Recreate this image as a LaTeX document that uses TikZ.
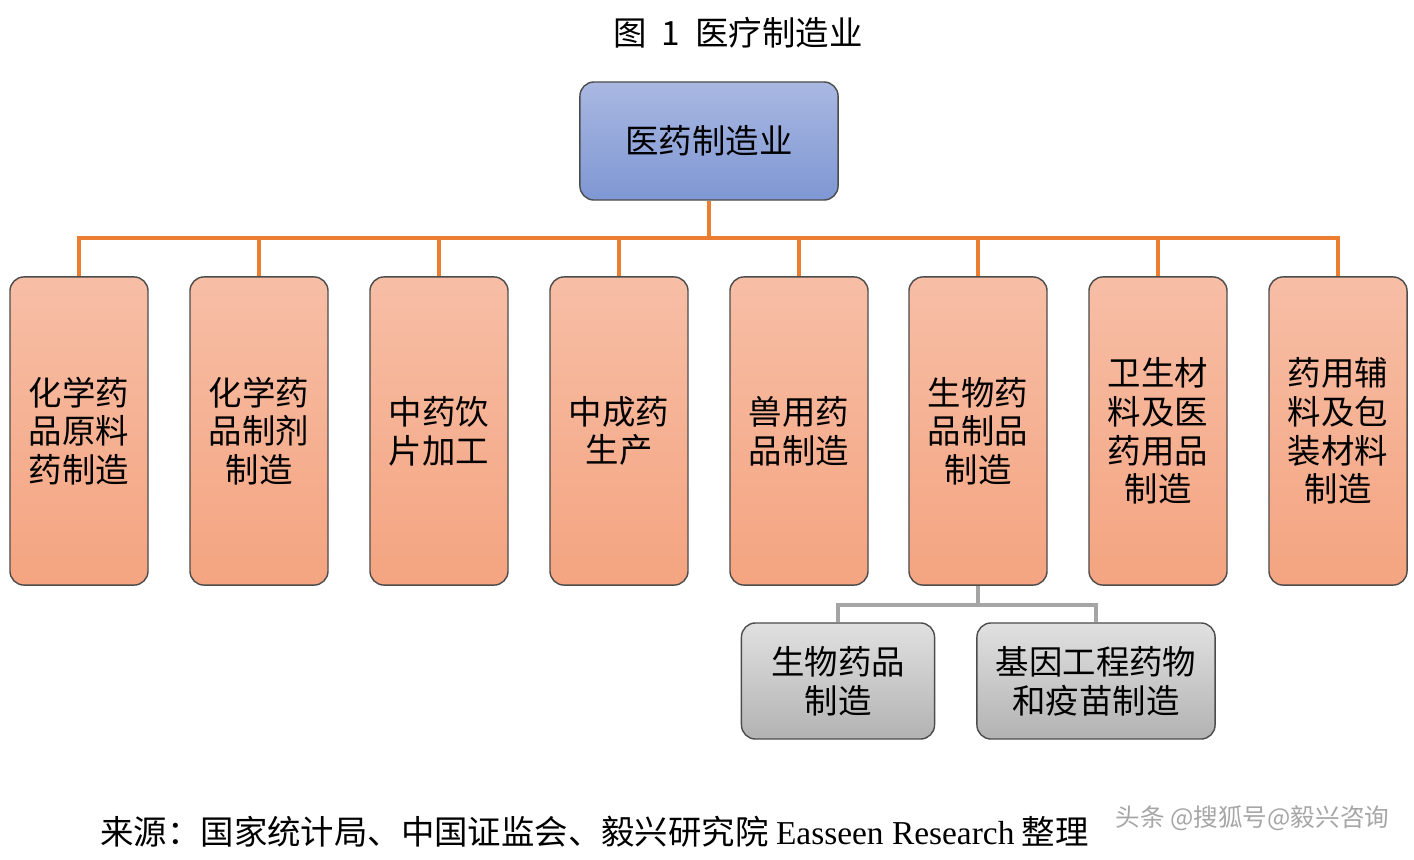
\documentclass[tikz,border=0pt]{standalone}
\usepackage{fontspec}
\setmainfont{Liberation Serif}
\newfontfamily\cjk{Noto Sans CJK SC}
\usetikzlibrary{positioning}
\definecolor{orangeline}{HTML}{ED7D31}
\definecolor{graylinec}{HTML}{A5A5A5}
\definecolor{rootTop}{HTML}{AAB8E2}
\definecolor{rootBot}{HTML}{7E97D3}
\definecolor{catTop}{HTML}{F7BEA6}
\definecolor{catBot}{HTML}{F4A480}
\begin{document}
\begin{tikzpicture}[
                    x=0.01cm, y=-0.01cm,
                    box/.style={draw=black!70, rounded corners=4pt, align=center,
                        font=\cjk\fontsize{9.5}{11}\selectfont},
                    cat/.style={box, minimum width=1.38cm, minimum height=3.08cm,
                        top color=catTop, bottom color=catBot},
                    sub/.style={box, minimum height=1.16cm,
                        top color=black!12, bottom color=black!30},
                    bus/.style={orangeline, line width=1.2pt}
                ]
                \useasboundingbox (0,0) rectangle (1414,860);
                \node[font=\cjk\fontsize{9.5}{11}\selectfont] (title) at (738,33) {图\ \ 1\ \ 医疗制造业};

                \node (root) [box, minimum width=2.58cm, minimum height=1.18cm,
                    top color=rootTop, bottom color=rootBot] at (709,141) {医药制造业};

                \node (c1) [cat] at (79,431) {化学药\\品原料\\药制造};
                \node (c2) [cat] at (259,431) {化学药\\品制剂\\制造};
                \node (c3) [cat] at (439,431) {中药饮\\片加工};
                \node (c4) [cat] at (619,431) {中成药\\生产};
                \node (c5) [cat] at (799,431) {兽用药\\品制造};
                \node (c6) [cat] at (978,431) {生物药\\品制品\\制造};
                \node (c7) [cat] at (1158,431) {卫生材\\料及医\\药用品\\制造};
                \node (c8) [cat] at (1338,431) {药用辅\\料及包\\装材料\\制造};

                \node (s1) [sub, minimum width=1.93cm] at (838,681) {生物药品\\制造};
                \node (s2) [sub, minimum width=2.38cm] at (1096,681) {基因工程药物\\和疫苗制造};

                \coordinate (busroot) at (709,238);
                \draw[bus] (root.south) -- (busroot);
                \foreach \c in {c1,c2,c3,c4,c5,c6,c7,c8}
                    \draw[bus] (busroot) -| (\c.north);

                \coordinate (bussub) at (978,605);
                \draw[graylinec, line width=1.2pt] (c6.south) -- (bussub);
                \foreach \s in {s1,s2}
                    \draw[graylinec, line width=1.2pt] (bussub) -| (\s.north);

                \node (source) [anchor=west, font=\cjk\fontsize{9.5}{11}\selectfont] at (88,832)
                    {来源：国家统计局、中国证监会、毅兴研究院 {\rmfamily Easseen Research} 整理};
                \node (mark) [anchor=east, text=black!35, inner sep=0pt, font=\cjk\fontsize{7}{9}\selectfont] at (1390,818)
                    {头条 @搜狐号@毅兴咨询};
            \end{tikzpicture}
\end{document}
